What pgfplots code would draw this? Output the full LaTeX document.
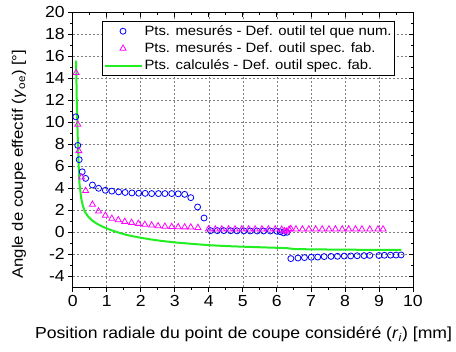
\documentclass[border=0pt]{standalone}
\usepackage{fontspec}
\setmainfont[FakeStretch=1.1]{Liberation Sans}
\usepackage{pgfplots}
\pgfplotsset{compat=1.18}
\definecolor{pblue}{HTML}{0000FF}
\definecolor{pmag}{HTML}{FF00FF}
\definecolor{pgreen}{HTML}{22EE22}

\begin{document}
\begin{tikzpicture}
\path[use as bounding box] (-72.7pt,-64.7pt) rectangle (383.3pt,287.3pt);
\begin{axis}[
    name=main, at={(0,0)}, anchor=south west,
    scale only axis,
    width=340.3pt, height=275pt,
    xmin=0, xmax=10, ymin=-5, ymax=20,
    xtick={0,1,...,10},
    ytick={-4,-2,0,2,4,6,8,10,12,14,16,18,20},
    xticklabels={0,1,2,3,4,5,6,7,8,9,10},
    yticklabels={-4,-2,0,2,4,6,8,10,12,14,16,18,20},
    minor x tick num=1, minor y tick num=1,
    xtick pos=bottom, ytick pos=left,
    tick align=outside,
    major tick length=4.5pt, minor tick length=2.5pt,
    tick style={black, line width=0.8pt},
    axis line style={line width=0.9pt},
    grid=major,
    major grid style={gray, line width=0.6pt, dash pattern=on 2pt off 2pt},
    tick label style={font=\fontsize{16}{18}\selectfont},
    xlabel={Position radiale du point de coupe considéré (\textit{r}\textsubscript{\textit{i}}) [mm]},
    ylabel={Angle de coupe effectif (\textit{γ}\textsubscript{oe}) [°]},
    xlabel style={font=\fontsize{16}{19}\selectfont, at={(axis description cs:0.502,-0.188)}, anchor=base},
    ylabel style={font=\fontsize{15.2}{18}\selectfont, at={(axis description cs:-0.158,0.448)}, anchor=center},
    legend style={at={(rel axis cs:0.947,0.968)}, anchor=north east,
        font=\fontsize{13.5}{15}\selectfont, draw=black, line width=0.8pt,
        row sep=1.8pt, inner xsep=1pt, inner ysep=2pt},
    legend cell align=left,
    legend image code/.code={\draw[mark repeat=2,mark phase=2,#1] plot coordinates {(0pt,0pt) (18.5pt,0pt) (37pt,0pt)};},
]
\addplot[only marks, mark=o, mark size=3pt, color=pblue, mark options={line width=0.8pt}] coordinates {
 (0.09,10.5) (0.15,7.9) (0.19,6.6) (0.28,5.5) (0.38,4.9) (0.58,4.3) (0.76,4.0)
 (0.96,3.82) (1.15,3.74) (1.35,3.67) (1.54,3.62) (1.74,3.58) (1.94,3.55) (2.13,3.54)
 (2.32,3.52) (2.52,3.52) (2.71,3.52) (2.91,3.52) (3.1,3.5) (3.29,3.45) (3.47,3.15)
 (3.67,2.3) (3.86,1.3)
 (4.05,0.15) (4.25,0.15) (4.44,0.15) (4.64,0.14) (4.83,0.13) (5.03,0.13) (5.22,0.12)
 (5.42,0.12) (5.61,0.12) (5.81,0.12) (6.0,0.1) (6.1,0.05) (6.2,-0.05) (6.3,0.0)
 (6.41,-2.39) (6.62,-2.34) (6.81,-2.30) (7.01,-2.27) (7.2,-2.25) (7.39,-2.21)
 (7.59,-2.19) (7.78,-2.18) (7.98,-2.16) (8.17,-2.15) (8.36,-2.13) (8.56,-2.12)
 (8.73,-2.1) (9.0,-2.11) (9.16,-2.09) (9.34,-2.08) (9.5,-2.07) (9.65,-2.06)
};
\addlegendentry{Pts. mesurés - Def. outil tel que num.}
\addplot[only marks, mark=triangle, mark size=3.5pt, color=pmag, mark options={line width=0.8pt}] coordinates {
 (0.1,14.5) (0.15,9.8) (0.18,7.4) (0.26,5.0) (0.38,3.78) (0.58,2.53) (0.76,1.92)
 (0.96,1.53) (1.15,1.25) (1.34,1.12) (1.53,0.97) (1.73,0.88) (1.93,0.79) (2.12,0.7)
 (2.32,0.64) (2.51,0.57) (2.71,0.53) (2.91,0.5) (3.1,0.48) (3.29,0.47) (3.47,0.46)
 (3.68,0.42)
 (3.99,0.28) (4.19,0.28) (4.38,0.28) (4.58,0.28) (4.77,0.28) (4.97,0.28) (5.17,0.28)
 (5.36,0.28) (5.56,0.28) (5.75,0.28) (5.95,0.28) (6.14,0.26) (6.22,0.12) (6.28,0.08)
 (6.36,0.26) (6.41,0.32) (6.56,0.28) (6.75,0.28) (6.94,0.28) (7.14,0.28) (7.33,0.28)
 (7.53,0.28) (7.72,0.28) (7.92,0.28) (8.11,0.28) (8.31,0.28) (8.5,0.28) (8.73,0.28)
 (8.97,0.28) (9.12,0.28)
};
\addlegendentry{Pts. mesurés - Def. outil spec. fab.}
\addplot[color=pgreen, line width=2pt, no marks] coordinates {
 (0.1,15.6) (0.12,12) (0.14,9.5) (0.17,6.5) (0.2,4.4) (0.25,3.1) (0.3,2.4) (0.36,1.85)
 (0.45,1.45) (0.56,1.1) (0.7,0.8) (0.85,0.55) (1.0,0.35) (1.2,0.12) (1.4,-0.08)
 (1.6,-0.25) (1.8,-0.38) (2.0,-0.5) (2.3,-0.65) (2.6,-0.78) (3.0,-0.92) (3.5,-1.05)
 (4.0,-1.17) (4.5,-1.25) (5.0,-1.31) (5.5,-1.36) (6.0,-1.41) (6.3,-1.44) (6.5,-1.52)
 (7.0,-1.55) (8.0,-1.58) (9.0,-1.6) (9.66,-1.61)
};
\addlegendentry{Pts. calculés - Def. outil spec. fab.}
\end{axis}
\begin{axis}[
    at={(0,0)}, anchor=south west,
    scale only axis,
    width=340.3pt, height=275pt,
    xmin=0, xmax=10, ymin=-5, ymax=20,
    xtick={0,1,...,10},
    ytick={-4,-2,0,2,4,6,8,10,12,14,16,18,20},
    xticklabels={}, yticklabels={},
    minor x tick num=1, minor y tick num=1,
    xtick pos=top, ytick pos=right,
    tick align=inside,
    major tick length=4.5pt, minor tick length=2.5pt,
    tick style={black, line width=0.8pt},
    axis line style={line width=0.9pt},
]
\end{axis}
\end{tikzpicture}
\end{document}
